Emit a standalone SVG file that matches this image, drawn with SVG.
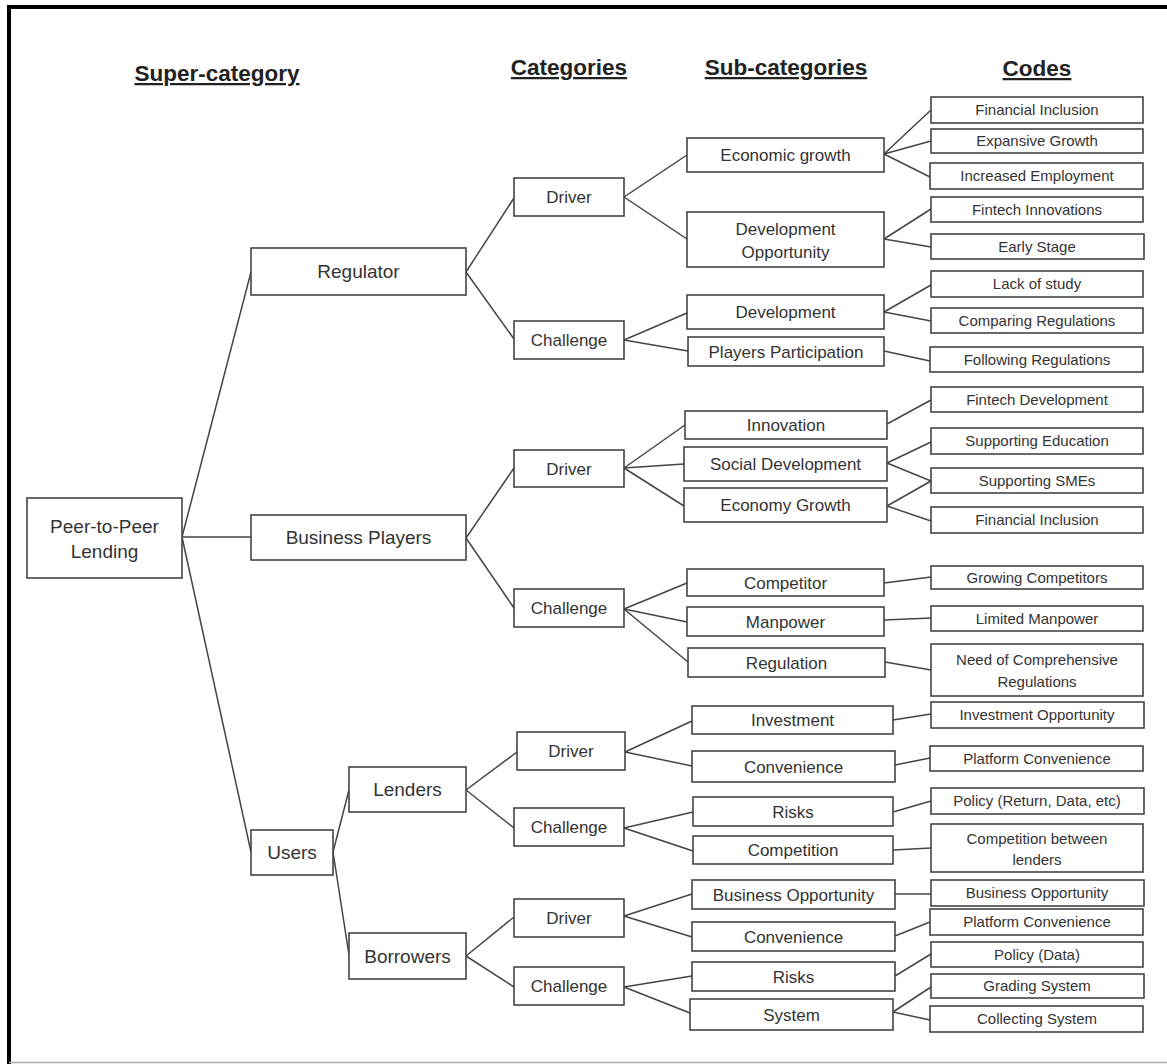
<svg xmlns="http://www.w3.org/2000/svg" width="1167" height="1064" viewBox="0 0 1167 1064">
<style>
.box{fill:#fff;stroke:#444;stroke-width:1.6}
.t{font-family:"Liberation Sans",Arial,sans-serif;fill:#333;text-anchor:middle}
.f19{font-size:19px}
.f17{font-size:17px}
.f15{font-size:15px}
.h{font-family:"Liberation Sans",Arial,sans-serif;font-weight:bold;font-size:22.5px;fill:#222;text-anchor:middle;text-decoration:underline}
.c line{stroke:#444;stroke-width:1.5}
</style>
<rect x="0" y="0" width="1167" height="1064" fill="#fff"/>
<path d="M9,1064 V7 H1167" fill="none" stroke="#000" stroke-width="4"/>
<line x1="9" y1="1062.5" x2="1167" y2="1062.5" stroke="#aaa" stroke-width="1.5"/>

<g id="headers">
<text class="h" x="217" y="81">Super-category</text>
<text class="h" x="569" y="75">Categories</text>
<text class="h" x="786" y="75">Sub-categories</text>
<text class="h" x="1037" y="76">Codes</text>
</g>

<g id="connectors" class="c">
<line x1="182" y1="537" x2="251" y2="272"/>
<line x1="182" y1="537" x2="251" y2="537"/>
<line x1="182" y1="537" x2="251" y2="852"/>
<line x1="466" y1="272" x2="514" y2="198"/>
<line x1="466" y1="272" x2="514" y2="339"/>
<line x1="466" y1="538" x2="514" y2="468"/>
<line x1="466" y1="538" x2="514" y2="608"/>
<line x1="333" y1="852" x2="349" y2="790"/>
<line x1="333" y1="852" x2="349" y2="955"/>
<line x1="466" y1="790" x2="517" y2="752"/>
<line x1="466" y1="790" x2="514" y2="828"/>
<line x1="466" y1="956" x2="514" y2="917"/>
<line x1="466" y1="956" x2="514" y2="987"/>
<line x1="624" y1="197" x2="687" y2="155"/>
<line x1="624" y1="197" x2="687" y2="239"/>
<line x1="624" y1="340" x2="687" y2="313"/>
<line x1="624" y1="340" x2="688" y2="351"/>
<line x1="624" y1="468" x2="685" y2="425"/>
<line x1="624" y1="468" x2="684" y2="464"/>
<line x1="624" y1="468" x2="684" y2="506"/>
<line x1="624" y1="609" x2="687" y2="583"/>
<line x1="624" y1="609" x2="687" y2="622"/>
<line x1="624" y1="609" x2="688" y2="662"/>
<line x1="625" y1="752" x2="692" y2="721"/>
<line x1="625" y1="752" x2="692" y2="766"/>
<line x1="624" y1="828" x2="693" y2="812"/>
<line x1="624" y1="828" x2="693" y2="851"/>
<line x1="624" y1="916" x2="692" y2="894"/>
<line x1="624" y1="916" x2="692" y2="937"/>
<line x1="624" y1="987" x2="692" y2="976"/>
<line x1="624" y1="987" x2="690" y2="1013"/>
<line x1="884" y1="154" x2="931" y2="110"/>
<line x1="884" y1="154" x2="931" y2="141"/>
<line x1="884" y1="154" x2="930" y2="177"/>
<line x1="884" y1="239" x2="931" y2="209"/>
<line x1="884" y1="239" x2="931" y2="247"/>
<line x1="884" y1="312" x2="931" y2="285"/>
<line x1="884" y1="312" x2="931" y2="321"/>
<line x1="884" y1="351" x2="930" y2="361"/>
<line x1="887" y1="424" x2="931" y2="400"/>
<line x1="887" y1="463" x2="931" y2="442"/>
<line x1="887" y1="463" x2="931" y2="481"/>
<line x1="887" y1="506" x2="931" y2="481"/>
<line x1="887" y1="506" x2="931" y2="521"/>
<line x1="884" y1="583" x2="931" y2="577"/>
<line x1="884" y1="620" x2="931" y2="618"/>
<line x1="885" y1="662" x2="931" y2="670"/>
<line x1="893" y1="720" x2="931" y2="714"/>
<line x1="895" y1="765" x2="930" y2="758"/>
<line x1="893" y1="812" x2="931" y2="801"/>
<line x1="893" y1="850" x2="931" y2="848"/>
<line x1="895" y1="894" x2="931" y2="894"/>
<line x1="895" y1="936" x2="930" y2="922"/>
<line x1="895" y1="976" x2="931" y2="954"/>
<line x1="893" y1="1012" x2="931" y2="987"/>
<line x1="893" y1="1012" x2="930" y2="1020"/>
</g>

<g id="n_p2p"><rect class="box" x="27" y="498" width="155" height="80"/><text class="t f19" x="104.5" y="533.3">Peer-to-Peer</text><text class="t f19" x="104.5" y="558.3">Lending</text></g>

<g id="n_regulator"><rect class="box" x="251" y="248" width="215" height="47"/><text class="t f19" x="358.5" y="278.1">Regulator</text></g>
<g id="n_business"><rect class="box" x="251" y="515" width="215" height="45"/><text class="t f19" x="358.5" y="544.1">Business Players</text></g>
<g id="n_users"><rect class="box" x="251" y="830" width="82" height="45"/><text class="t f19" x="292" y="859.1">Users</text></g>
<g id="n_lenders"><rect class="box" x="349" y="767" width="117" height="45"/><text class="t f19" x="407.5" y="796.1">Lenders</text></g>
<g id="n_borrowers"><rect class="box" x="349" y="933" width="117" height="46"/><text class="t f19" x="407.5" y="962.6">Borrowers</text></g>

<g id="n_reg_driver"><rect class="box" x="514" y="178" width="110" height="38"/><text class="t f17" x="569" y="203">Driver</text></g>
<g id="n_reg_challenge"><rect class="box" x="514" y="321" width="110" height="38"/><text class="t f17" x="569" y="346">Challenge</text></g>
<g id="n_bp_driver"><rect class="box" x="514" y="450" width="110" height="37"/><text class="t f17" x="569" y="474.5">Driver</text></g>
<g id="n_bp_challenge"><rect class="box" x="514" y="589" width="110" height="38"/><text class="t f17" x="569" y="614">Challenge</text></g>
<g id="n_len_driver"><rect class="box" x="517" y="732" width="108" height="38"/><text class="t f17" x="571" y="757">Driver</text></g>
<g id="n_len_challenge"><rect class="box" x="514" y="808" width="110" height="38"/><text class="t f17" x="569" y="833">Challenge</text></g>
<g id="n_bor_driver"><rect class="box" x="514" y="899" width="110" height="38"/><text class="t f17" x="569" y="924">Driver</text></g>
<g id="n_bor_challenge"><rect class="box" x="514" y="967" width="110" height="38"/><text class="t f17" x="569" y="992">Challenge</text></g>

<g id="s_econ_growth"><rect class="box" x="687" y="138" width="197" height="34"/><text class="t f17" x="785.5" y="161">Economic growth</text></g>
<g id="s_dev_opp"><rect class="box" x="687" y="212" width="197" height="55"/><text class="t f17" x="785.5" y="235">Development</text><text class="t f17" x="785.5" y="257.7">Opportunity</text></g>
<g id="s_development"><rect class="box" x="687" y="295" width="197" height="34"/><text class="t f17" x="785.5" y="318">Development</text></g>
<g id="s_players_part"><rect class="box" x="688" y="337" width="196" height="29"/><text class="t f17" x="786" y="357.5">Players Participation</text></g>
<g id="s_innovation"><rect class="box" x="685" y="411" width="202" height="28"/><text class="t f17" x="786" y="431">Innovation</text></g>
<g id="s_social_dev"><rect class="box" x="684" y="447" width="203" height="34"/><text class="t f17" x="785.5" y="470">Social Development</text></g>
<g id="s_economy_growth"><rect class="box" x="684" y="488" width="203" height="34"/><text class="t f17" x="785.5" y="511">Economy Growth</text></g>
<g id="s_competitor"><rect class="box" x="687" y="569" width="197" height="27"/><text class="t f17" x="785.5" y="588.5">Competitor</text></g>
<g id="s_manpower"><rect class="box" x="687" y="607" width="197" height="29"/><text class="t f17" x="785.5" y="627.5">Manpower</text></g>
<g id="s_regulation"><rect class="box" x="688" y="648" width="197" height="29"/><text class="t f17" x="786.5" y="668.5">Regulation</text></g>
<g id="s_investment"><rect class="box" x="692" y="706" width="201" height="28"/><text class="t f17" x="792.5" y="726">Investment</text></g>
<g id="s_convenience_l"><rect class="box" x="692" y="751" width="203" height="31"/><text class="t f17" x="793.5" y="772.5">Convenience</text></g>
<g id="s_risks_l"><rect class="box" x="693" y="797" width="200" height="29"/><text class="t f17" x="793" y="817.5">Risks</text></g>
<g id="s_competition"><rect class="box" x="693" y="836" width="200" height="28"/><text class="t f17" x="793" y="856">Competition</text></g>
<g id="s_business_opp"><rect class="box" x="692" y="880" width="203" height="29"/><text class="t f17" x="793.5" y="900.5">Business Opportunity</text></g>
<g id="s_convenience_b"><rect class="box" x="692" y="922" width="203" height="29"/><text class="t f17" x="793.5" y="942.5">Convenience</text></g>
<g id="s_risks_b"><rect class="box" x="692" y="962" width="203" height="29"/><text class="t f17" x="793.5" y="982.5">Risks</text></g>
<g id="s_system"><rect class="box" x="690" y="999" width="203" height="31"/><text class="t f17" x="791.5" y="1020.5">System</text></g>

<g id="c_fin_incl"><rect class="box" x="931" y="97" width="212" height="26"/><text class="t f15" x="1037" y="115.3">Financial Inclusion</text></g>
<g id="c_exp_growth"><rect class="box" x="931" y="129" width="212" height="24"/><text class="t f15" x="1037" y="146.3">Expansive Growth</text></g>
<g id="c_incr_emp"><rect class="box" x="930" y="163" width="213" height="26"/><text class="t f15" x="1037" y="181.3">Increased Employment</text></g>
<g id="c_fintech_inn"><rect class="box" x="931" y="197" width="212" height="25"/><text class="t f15" x="1037" y="214.8">Fintech Innovations</text></g>
<g id="c_early"><rect class="box" x="931" y="234" width="213" height="25"/><text class="t f15" x="1037" y="251.8">Early Stage</text></g>
<g id="c_lack"><rect class="box" x="931" y="271" width="212" height="26"/><text class="t f15" x="1037" y="289.3">Lack of study</text></g>
<g id="c_comparing"><rect class="box" x="931" y="308" width="212" height="25"/><text class="t f15" x="1037" y="325.8">Comparing Regulations</text></g>
<g id="c_following"><rect class="box" x="930" y="347" width="213" height="25"/><text class="t f15" x="1037" y="364.8">Following Regulations</text></g>
<g id="c_fintech_dev"><rect class="box" x="931" y="387" width="212" height="25"/><text class="t f15" x="1037" y="404.8">Fintech Development</text></g>
<g id="c_supp_edu"><rect class="box" x="931" y="428" width="212" height="26"/><text class="t f15" x="1037" y="446.3">Supporting Education</text></g>
<g id="c_supp_sme"><rect class="box" x="931" y="468" width="212" height="25"/><text class="t f15" x="1037" y="485.8">Supporting SMEs</text></g>
<g id="c_fin_incl2"><rect class="box" x="931" y="507" width="212" height="26"/><text class="t f15" x="1037" y="525.3">Financial Inclusion</text></g>
<g id="c_growing"><rect class="box" x="931" y="566" width="212" height="23"/><text class="t f15" x="1037" y="582.8">Growing Competitors</text></g>
<g id="c_limited"><rect class="box" x="931" y="606" width="212" height="25"/><text class="t f15" x="1037" y="623.8">Limited Manpower</text></g>
<g id="c_need"><rect class="box" x="931" y="644" width="212" height="52"/><text class="t f15" x="1037" y="664.6">Need of Comprehensive</text><text class="t f15" x="1037" y="687">Regulations</text></g>
<g id="c_invest_opp"><rect class="box" x="931" y="702" width="213" height="26"/><text class="t f15" x="1037" y="720.3">Investment Opportunity</text></g>
<g id="c_platform1"><rect class="box" x="930" y="746" width="213" height="25"/><text class="t f15" x="1037" y="763.8">Platform Convenience</text></g>
<g id="c_policy1"><rect class="box" x="931" y="788" width="213" height="26"/><text class="t f15" x="1037" y="806.3">Policy (Return, Data, etc)</text></g>
<g id="c_comp_between"><rect class="box" x="931" y="824" width="212" height="48"/><text class="t f15" x="1037" y="843.6">Competition between</text><text class="t f15" x="1037" y="865.3">lenders</text></g>
<g id="c_bus_opp"><rect class="box" x="931" y="880" width="213" height="26"/><text class="t f15" x="1037" y="898.3">Business Opportunity</text></g>
<g id="c_platform2"><rect class="box" x="930" y="909" width="213" height="26"/><text class="t f15" x="1037" y="927.3">Platform Convenience</text></g>
<g id="c_policy_data"><rect class="box" x="931" y="942" width="212" height="25"/><text class="t f15" x="1037" y="959.8">Policy (Data)</text></g>
<g id="c_grading"><rect class="box" x="931" y="974" width="213" height="24"/><text class="t f15" x="1037" y="991.3">Grading System</text></g>
<g id="c_collecting"><rect class="box" x="930" y="1006" width="213" height="26"/><text class="t f15" x="1037" y="1024.3">Collecting System</text></g>
</svg>
